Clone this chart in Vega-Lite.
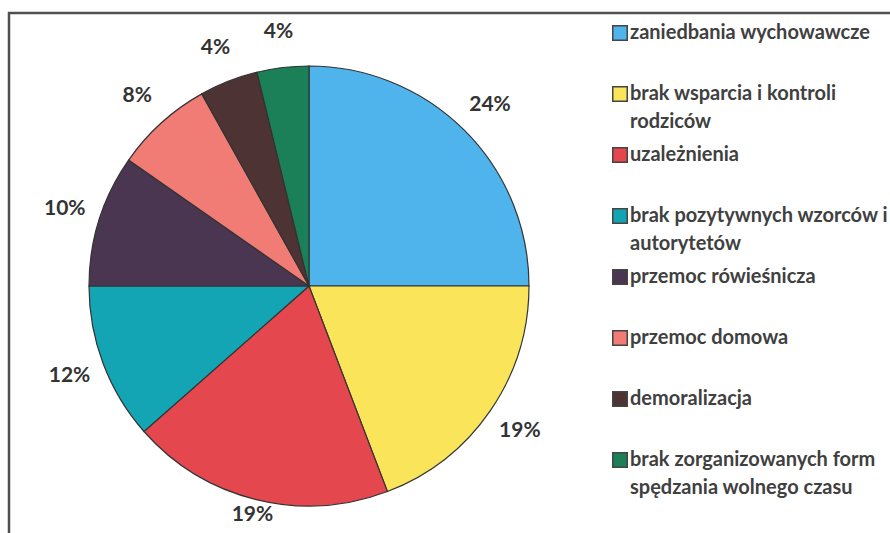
{
  "$schema": "https://vega.github.io/schema/vega-lite/v6.json",
  "width": 886,
  "height": 525,
  "autosize": "none",
  "padding": {"left": 9, "top": 13, "right": -5, "bottom": -5},
  "background": "white",
  "view": {"stroke": "#505050", "strokeWidth": 2.5},
  "data": {
    "values": [
      {"idx": 1, "category": "zaniedbania wychowawcze", "value": 25.0, "label": "24%"},
      {"idx": 2, "category": "brak wsparcia i kontroli rodziców", "value": 19.2, "label": "19%"},
      {"idx": 3, "category": "uzależnienia", "value": 19.3, "label": "19%"},
      {"idx": 4, "category": "brak pozytywnych wzorców i autorytetów", "value": 11.5, "label": "12%"},
      {"idx": 5, "category": "przemoc rówieśnicza", "value": 9.7, "label": "10%"},
      {"idx": 6, "category": "przemoc domowa", "value": 7.2, "label": "8%"},
      {"idx": 7, "category": "demoralizacja", "value": 4.3, "label": "4%"},
      {"idx": 8, "category": "brak zorganizowanych form spędzania wolnego czasu", "value": 3.8, "label": "4%"}
    ]
  },
  "encoding": {
    "theta": {"field": "value", "type": "quantitative", "stack": true},
    "order": {"field": "idx", "type": "quantitative"}
  },
  "layer": [
    {
      "mark": {"type": "arc", "x": 300, "y": 273, "outerRadius": 220, "stroke": "#333333", "strokeWidth": 1.2},
      "encoding": {
        "color": {
          "field": "category",
          "type": "nominal",
          "scale": {
            "domain": [
              "zaniedbania wychowawcze",
              "brak wsparcia i kontroli rodziców",
              "uzależnienia",
              "brak pozytywnych wzorców i autorytetów",
              "przemoc rówieśnicza",
              "przemoc domowa",
              "demoralizacja",
              "brak zorganizowanych form spędzania wolnego czasu"
            ],
            "range": ["#4fb3ec", "#f9e45a", "#e5474f", "#13a5b4", "#4a3650", "#f07c75", "#4d3333", "#1b7f57"]
          },
          "legend": {
            "title": null,
            "orient": "none",
            "legendX": 601,
            "legendY": 10,
            "padding": 0,
            "symbolType": "square",
            "symbolSize": 210,
            "symbolStrokeColor": "#444444",
            "symbolStrokeWidth": 1.5,
            "labelFont": "Lato",
            "labelFontSize": 20,
            "labelFontWeight": "bold",
            "labelColor": "#404040",
            "labelOffset": 0,
            "labelLimit": 300,
            "labelBaseline": "top",
            "gridAlign": "all",
            "rowPadding": 12,
            "labelExpr": "length(datum.label) > 26 ? [substring(datum.label, 0, lastindexof(substring(datum.label, 0, 27), ' ')), substring(datum.label, lastindexof(substring(datum.label, 0, 27), ' ') + 1)] : datum.label",
            "encode": {"labels": {"update": {"lineHeight": {"value": 28}, "dy": {"value": -10}}}}
          }
        }
      }
    },
    {
      "mark": {"type": "text", "x": 300, "y": 273, "font": "Lato", "fontSize": 21, "fontWeight": "bold", "fill": "#333333"},
      "encoding": {
        "text": {"field": "label"},
        "radius": {"value": {"expr": "datum.idx == 3 ? 236 : 256"}}
      }
    }
  ]
}
